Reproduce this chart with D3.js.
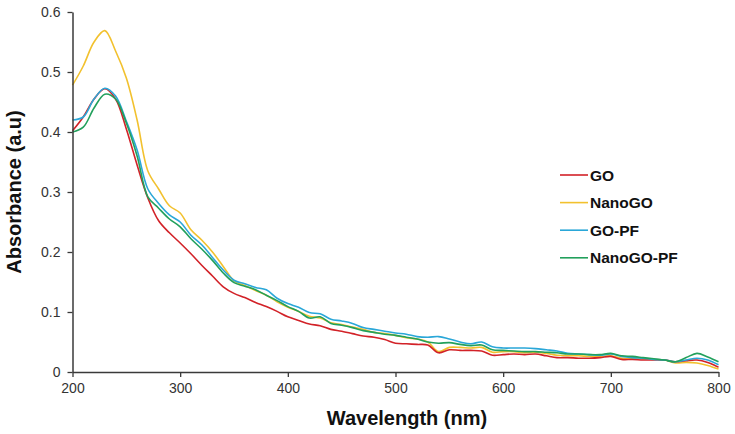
<!DOCTYPE html>
<html>
<head>
<meta charset="utf-8">
<script src="https://cdn.jsdelivr.net/npm/d3@7"></script>
<style>
  html, body { margin: 0; padding: 0; background: #fff; }
  svg { display: block; font-family: Arial, "Liberation Sans", sans-serif; }
</style>
</head>
<body>
<svg id="chart" width="735" height="434"></svg>
<script>
const wavelengths = d3.range(200, 801, 10);

const goValues = [0.402,0.425,0.455,0.472,0.455,0.405,0.345,0.290,0.252,0.232,0.215,0.197,0.178,0.160,0.142,0.131,0.124,0.116,0.109,0.101,0.092,0.086,0.080,0.077,0.071,0.068,0.064,0.060,0.058,0.054,0.048,0.047,0.046,0.045,0.032,0.037,0.036,0.036,0.035,0.028,0.029,0.030,0.029,0.030,0.027,0.024,0.024,0.023,0.023,0.024,0.026,0.021,0.021,0.020,0.020,0.020,0.017,0.019,0.020,0.016,0.008];

const nanoGoValues = [0.478,0.510,0.550,0.569,0.535,0.490,0.420,0.335,0.305,0.277,0.265,0.237,0.220,0.200,0.176,0.152,0.144,0.136,0.128,0.117,0.108,0.101,0.093,0.090,0.082,0.079,0.075,0.071,0.066,0.064,0.061,0.057,0.055,0.050,0.034,0.041,0.041,0.040,0.041,0.033,0.034,0.034,0.032,0.033,0.031,0.028,0.027,0.027,0.026,0.026,0.027,0.023,0.022,0.022,0.021,0.020,0.015,0.016,0.015,0.011,0.005];

const goPfValues = [0.420,0.425,0.455,0.473,0.460,0.418,0.370,0.305,0.281,0.262,0.250,0.228,0.212,0.191,0.170,0.153,0.147,0.141,0.137,0.123,0.114,0.108,0.099,0.097,0.088,0.085,0.081,0.074,0.071,0.068,0.065,0.063,0.059,0.058,0.059,0.055,0.050,0.047,0.050,0.042,0.040,0.040,0.040,0.039,0.037,0.035,0.031,0.030,0.029,0.028,0.030,0.026,0.024,0.023,0.021,0.020,0.017,0.020,0.023,0.020,0.012];

const nanoGoPfValues = [0.400,0.408,0.440,0.463,0.455,0.415,0.360,0.292,0.273,0.255,0.242,0.222,0.205,0.186,0.165,0.149,0.143,0.137,0.128,0.119,0.109,0.101,0.090,0.092,0.081,0.078,0.074,0.069,0.066,0.063,0.061,0.058,0.055,0.050,0.048,0.049,0.046,0.044,0.045,0.037,0.036,0.035,0.034,0.034,0.033,0.032,0.030,0.030,0.029,0.029,0.031,0.027,0.026,0.024,0.022,0.020,0.017,0.024,0.031,0.025,0.017];

const seriesNames = ["GO", "NanoGO", "GO-PF", "NanoGO-PF"];
const seriesColors = ["#d22228", "#f2c12e", "#2aa7d8", "#22a05c"];
const xTicks = [200, 300, 400, 500, 600, 700, 800];
const yTicks = [0, 0.1, 0.2, 0.3, 0.4, 0.5, 0.6];

const allValues = [goValues, nanoGoValues, goPfValues, nanoGoPfValues];

const svg = d3.select("#chart");
const x = d3.scaleLinear().domain([200, 800]).range([72.5, 718.5]);
const y = d3.scaleLinear().domain([0, 0.6]).range([372, 12]);

const axisColor = "#3a3a3a";

// Lines
const line = d3.line()
  .x(d => x(d[0]))
  .y(d => y(d[1]))
  .curve(d3.curveCatmullRom.alpha(0.5));

// Draw in order so that red/green sit as in original
const drawOrder = [1, 0, 2, 3];
drawOrder.forEach(i => {
  const pts = wavelengths.map((w, k) => [w, allValues[i][k]]);
  svg.append("path")
    .attr("d", line(pts))
    .attr("fill", "none")
    .attr("stroke", seriesColors[i])
    .attr("stroke-width", 1.6)
    .attr("stroke-linejoin", "round");
});

// Axes
const xAxis = d3.axisBottom(x).tickValues(xTicks).tickSize(5).tickSizeOuter(0).tickPadding(6)
  .tickFormat(d3.format("d"));
const yAxis = d3.axisLeft(y).tickValues(yTicks).tickSize(5).tickSizeOuter(0).tickPadding(7)
  .tickFormat(d => d === 0 ? "0" : d3.format(".1f")(d));

const gx = svg.append("g").attr("transform", "translate(0,372)").call(xAxis);
const gy = svg.append("g").attr("transform", "translate(72.5,0)").call(yAxis);

[gx, gy].forEach(g => {
  g.select(".domain").attr("stroke", axisColor).attr("stroke-width", 1.5);
  g.selectAll(".tick line").attr("stroke", axisColor).attr("stroke-width", 1.3);
  g.selectAll(".tick text")
    .attr("fill", "#333")
    .style("font-size", "14px")
    .style("font-family", "Arial, 'Liberation Sans', sans-serif");
});

// Axis titles
svg.append("text")
  .attr("x", 407)
  .attr("y", 425)
  .attr("text-anchor", "middle")
  .style("font-size", "20px")
  .style("font-weight", "bold")
  .attr("fill", "#111")
  .text("Wavelength (nm)");

svg.append("text")
  .attr("transform", "translate(21,192) rotate(-90)")
  .attr("text-anchor", "middle")
  .style("font-size", "20px")
  .style("font-weight", "bold")
  .attr("fill", "#111")
  .text("Absorbance (a.u)");

// Legend
const legend = svg.append("g");
seriesNames.forEach((name, i) => {
  const ly = 175 + i * 27.6;
  legend.append("line")
    .attr("x1", 560).attr("x2", 588)
    .attr("y1", ly).attr("y2", ly)
    .attr("stroke", seriesColors[i])
    .attr("stroke-width", 1.6);
  legend.append("text")
    .attr("x", 590)
    .attr("y", ly + 5.5)
    .style("font-size", "15.5px")
    .style("font-weight", "bold")
    .attr("fill", "#111")
    .text(name);
});
</script>
</body>
</html>
